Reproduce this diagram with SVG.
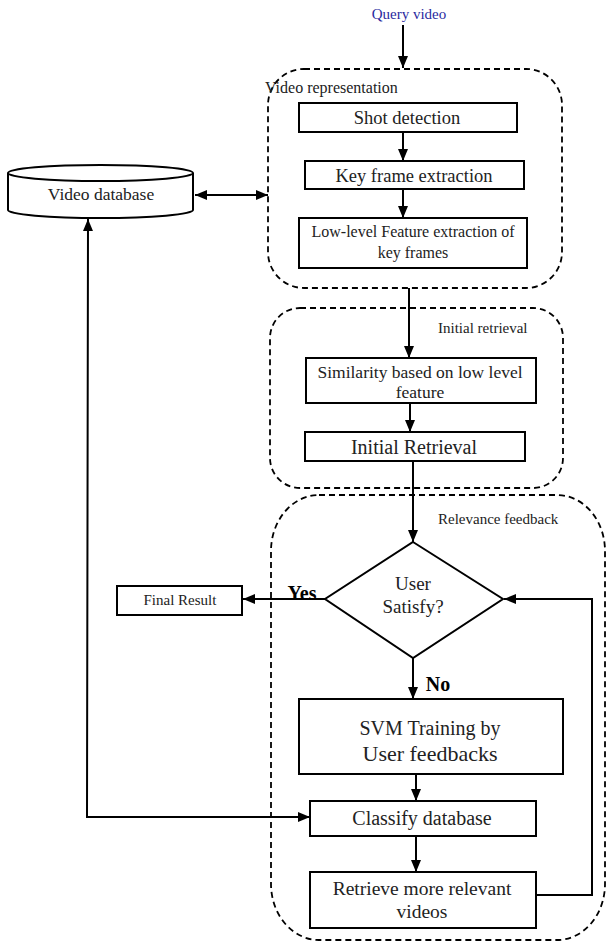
<svg xmlns="http://www.w3.org/2000/svg" width="609" height="942" viewBox="0 0 609 942">
<style>
.box{fill:#fff;stroke:#000;stroke-width:2}
.grp{fill:none;stroke:#000;stroke-width:1.8;stroke-dasharray:6,4}
.ln{fill:none;stroke:#000;stroke-width:2}
text{font-family:"Liberation Serif","Times New Roman",serif;fill:#222;text-anchor:middle}
.lbl{font-size:15px;text-anchor:start}
.b{font-weight:bold;fill:#000}
</style>
<defs>
<marker id="ah" viewBox="0 0 12 10" refX="12" refY="5" markerWidth="12" markerHeight="10" markerUnits="userSpaceOnUse" orient="auto-start-reverse">
<path d="M0,0 L12,5 L0,10 z" fill="#000"/>
</marker>
</defs>
<rect width="609" height="942" fill="#fff"/>

<g id="groups">
<rect class="grp" x="268" y="69" width="294" height="219" rx="36"/>
<text class="lbl" x="265" y="93" style="font-size:16px">Video representation</text>
<rect class="grp" x="270" y="308" width="293" height="180" rx="30"/>
<text class="lbl" x="438" y="333">Initial retrieval</text>
<rect class="grp" x="271" y="495" width="334" height="445" rx="48" ry="56"/>
<text class="lbl" x="438" y="524">Relevance feedback</text>
</g>

<g id="connectors">
<line class="ln" x1="403" y1="25" x2="403" y2="68" marker-end="url(#ah)"/>
<line class="ln" x1="403" y1="132" x2="403" y2="161" marker-end="url(#ah)"/>
<line class="ln" x1="403" y1="189" x2="403" y2="218" marker-end="url(#ah)"/>
<line class="ln" x1="195" y1="195" x2="268" y2="195" marker-start="url(#ah)" marker-end="url(#ah)"/>
<line class="ln" x1="409" y1="288" x2="409" y2="358" marker-end="url(#ah)"/>
<line class="ln" x1="410" y1="403" x2="410" y2="432" marker-end="url(#ah)"/>
<line class="ln" x1="413" y1="461" x2="413" y2="542" marker-end="url(#ah)"/>
<line class="ln" x1="325" y1="599" x2="243" y2="599" marker-end="url(#ah)"/>
<line class="ln" x1="413" y1="658" x2="413" y2="699" marker-end="url(#ah)"/>
<line class="ln" x1="416" y1="774" x2="416" y2="801" marker-end="url(#ah)"/>
<line class="ln" x1="416" y1="836" x2="416" y2="872" marker-end="url(#ah)"/>
<polyline class="ln" points="530,895 592,895 592,599 504,599" marker-end="url(#ah)"/>
<polyline class="ln" points="310,817 87,817 88,219" marker-start="url(#ah)" marker-end="url(#ah)"/>
</g>

<g id="query">
<text x="409" y="19" style="font-size:15px;fill:#2a2aa0">Query video</text>
</g>

<g id="database">
<path class="box" d="M8,173 L8,210 A92.5,8 0 0 0 193,210 L193,173"/>
<ellipse class="box" cx="100.5" cy="173" rx="92.5" ry="8"/>
<text x="101" y="200" style="font-size:17.5px">Video database</text>
</g>

<g id="shot">
<rect class="box" x="299" y="103" width="218" height="29"/>
<text x="407" y="124" style="font-size:18.5px">Shot detection</text>
</g>

<g id="keyframe">
<rect class="box" x="305" y="161" width="219" height="28"/>
<text x="414" y="182" style="font-size:18.5px">Key frame extraction</text>
</g>

<g id="lowlevel">
<rect class="box" x="299" y="218" width="228" height="50"/>
<text x="413" y="237" style="font-size:16px">Low-level Feature extraction of</text>
<text x="413" y="258" style="font-size:16px">key frames</text>
</g>

<g id="similarity">
<rect class="box" x="306" y="358" width="230" height="45"/>
<text x="420" y="378" style="font-size:17.5px">Similarity based on low level</text>
<text x="420" y="398" style="font-size:17.5px">feature</text>
</g>

<g id="initial">
<rect class="box" x="305" y="432" width="220" height="29"/>
<text x="414" y="454" style="font-size:20px">Initial Retrieval</text>
</g>

<g id="decision">
<polygon class="box" points="413,542 503,599 413,658 325,599"/>
<text x="413" y="590" style="font-size:19px">User</text>
<text x="413" y="613" style="font-size:19px">Satisfy?</text>
<text class="b" x="302" y="600" style="font-size:20px">Yes</text>
<text class="b" x="438" y="691" style="font-size:20px">No</text>
</g>

<g id="final">
<rect class="box" x="117" y="586" width="125" height="29"/>
<text x="180" y="605" style="font-size:15px">Final Result</text>
</g>

<g id="svm">
<rect class="box" x="299" y="699" width="264" height="75"/>
<text x="430" y="735" style="font-size:20px">SVM Training by</text>
<text x="430" y="761" style="font-size:22px">User feedbacks</text>
</g>

<g id="classify">
<rect class="box" x="310" y="801" width="226" height="35"/>
<text x="422" y="825" style="font-size:20px">Classify database</text>
</g>

<g id="retrieve">
<rect class="box" x="310" y="872" width="226" height="56"/>
<text x="422" y="895" style="font-size:19.5px">Retrieve more relevant</text>
<text x="422" y="918" style="font-size:19.5px">videos</text>
</g>
</svg>
